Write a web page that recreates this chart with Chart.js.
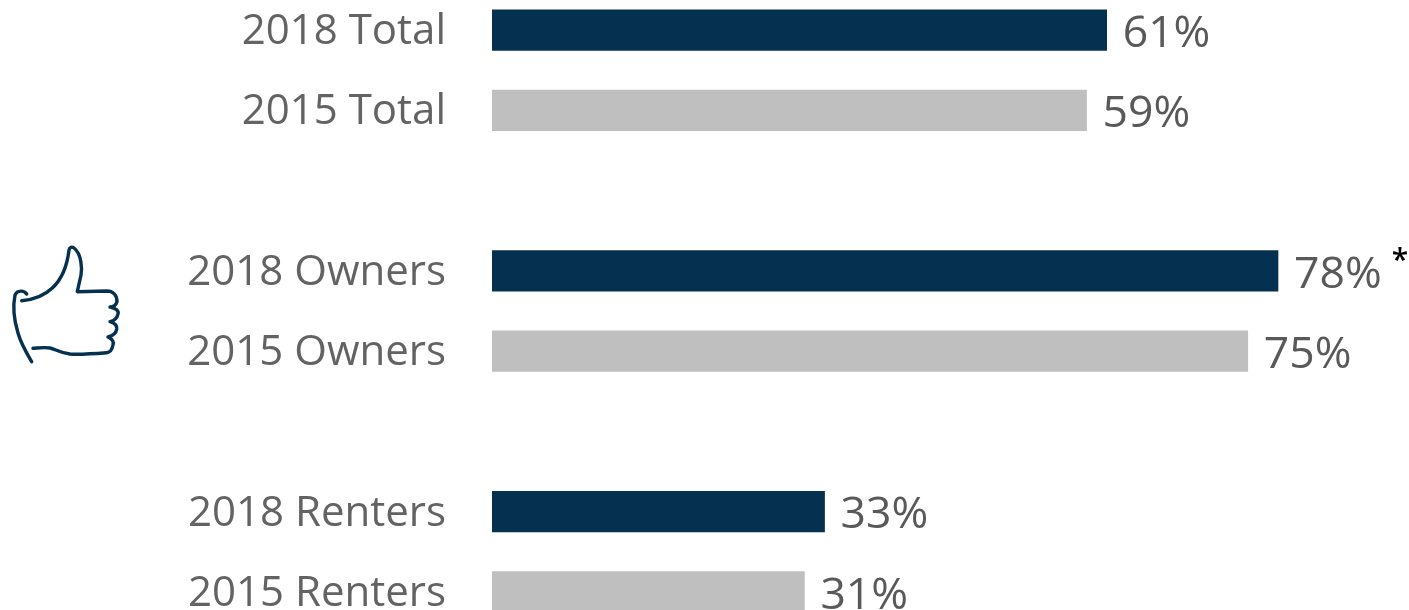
<!DOCTYPE html>
<html>
<head>
<meta charset="utf-8">
<style>
html, body { margin: 0; padding: 0; background: #fff; overflow: hidden; }
#wrap { position: relative; width: 1409px; height: 610px; overflow: hidden; }
#barChart { position: absolute; left: 0; top: -10px; }
</style>
</head>
<body>
<div id="wrap"><canvas id="barChart" width="1409" height="642"></canvas></div>
<script src="https://cdn.jsdelivr.net/npm/chart.js@4/dist/chart.umd.min.js"></script>
<script>
const categories = ['2018 Total', '2015 Total', '', '2018 Owners', '2015 Owners', '', '2018 Renters', '2015 Renters'];
const values = [61, 59, null, 78, 75, null, 33, 31];
const valueLabels = ['61%', '59%', '', '78%', '75%', '', '33%', '31%'];
const barColors = ['#05304f', '#bfbfbf', '#fff', '#05304f', '#bfbfbf', '#fff', '#05304f', '#bfbfbf'];
const FONT = '"Open Sans", "Noto Sans", sans-serif';

// etiquetas de valor y asterisco
const valueLabelPlugin = {
    id: 'valueLabels',
    afterDatasetsDraw(chart) {
        const ctx = chart.ctx;
        const meta = chart.getDatasetMeta(0);
        ctx.save();
        ctx.textBaseline = 'middle';
        meta.data.forEach((bar, i) => {
            if (values[i] === null) return;
            ctx.font = '44.5px ' + FONT;
            ctx.fillStyle = '#595959';
            ctx.fillText(valueLabels[i], bar.x + 16, bar.y + 4);
            if (i === 3) {
                ctx.fillStyle = '#000';
                ctx.font = '600 30px ' + FONT;
                ctx.textAlign = 'center';
                ctx.fillText('*', bar.x + 122, bar.y - 9);
                ctx.textAlign = 'left';
            }
        });
        ctx.restore();
    }
};

// icono del pulgar (el canvas empieza 10px por encima de la pagina)
const thumbPlugin = {
    id: 'thumbIcon',
    afterDraw(chart) {
        const ctx = chart.ctx;
        ctx.save();
        ctx.translate(0, 10);
        ctx.strokeStyle = '#05304f';
        ctx.lineWidth = 3.4;
        ctx.lineJoin = 'round';
        ctx.lineCap = 'round';
        // puño
        ctx.beginPath();
        ctx.moveTo(26.7, 294);
        ctx.bezierCurveTo(24, 290, 17, 290, 15, 295);
        ctx.bezierCurveTo(13, 305, 14, 320, 18, 333);
        ctx.bezierCurveTo(21, 344, 26, 352, 31.7, 361.7);
        ctx.stroke();
        // mano
        ctx.beginPath();
        ctx.moveTo(21.7, 300.7);
        ctx.bezierCurveTo(45, 299, 65, 285, 69, 250);
        ctx.bezierCurveTo(69.5, 247, 72, 246.5, 74, 248);
        ctx.bezierCurveTo(82, 254, 82, 270, 81, 275);
        ctx.lineTo(77.3, 291.7);
        ctx.lineTo(106.7, 291);
        ctx.bezierCurveTo(113, 291, 117, 295, 117, 301.7);
        ctx.bezierCurveTo(116, 305, 113, 307, 110, 307);
        ctx.bezierCurveTo(116, 308, 119, 311, 118, 314);
        ctx.bezierCurveTo(117, 319, 113, 321, 110, 321.7);
        ctx.bezierCurveTo(115, 323, 117, 326, 116.7, 329);
        ctx.bezierCurveTo(116, 334, 112, 336, 108, 337);
        ctx.bezierCurveTo(112, 339, 114, 342, 113, 345);
        ctx.bezierCurveTo(112, 350, 110, 352.5, 106.7, 352.7);
        ctx.bezierCurveTo(90, 354, 78, 354.5, 70, 354);
        ctx.bezierCurveTo(60, 353, 55, 349, 50, 348);
        ctx.bezierCurveTo(44, 347, 38, 348, 33, 348.3);
        ctx.stroke();
        ctx.restore();
    }
};

new Chart(document.getElementById('barChart'), {
    type: 'bar',
    data: {
        labels: categories,
        datasets: [{
            data: values,
            backgroundColor: barColors,
            barThickness: 40.5,
            borderWidth: 0
        }]
    },
    options: {
        indexAxis: 'y',
        responsive: false,
        animation: false,
        layout: { padding: 0 },
        plugins: { legend: { display: false }, tooltip: { enabled: false } },
        scales: {
            x: { min: 0, max: 91, display: false },
            y: {
                afterFit(axis) {
                    axis.width = 492;
                    axis.paddingTop = 0;
                    axis.paddingBottom = 0;
                },
                grid: { display: false, drawTicks: false },
                border: { display: false },
                ticks: {
                    color: '#636363',
                    padding: 46,
                    labelOffset: 2,
                    font: { size: 42, family: FONT },
                    autoSkip: false
                }
            }
        }
    },
    plugins: [valueLabelPlugin, thumbPlugin]
});
</script>
</body>
</html>
